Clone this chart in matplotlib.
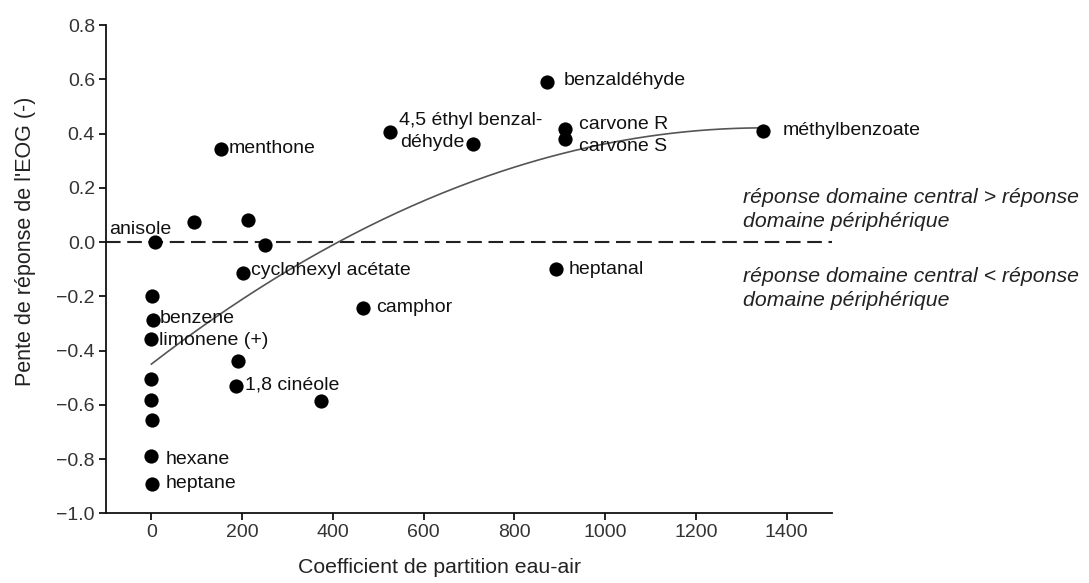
import matplotlib
matplotlib.use('Agg')
import matplotlib.pyplot as plt
import numpy as np

plt.rcParams['font.family'] = ['Liberation Sans', 'DejaVu Sans']

# Odorants: water-air partition coefficient vs EOG response slope
x_vals = [7, 93, 212, 251, 203, 2, 4, 0, 191, 187, 374, 0, 0, 2, 0, 2,
          466, 891, 153, 525, 709, 872, 912, 912, 1347]
y_vals = [0.0, 0.072, 0.08, -0.012, -0.116, -0.20, -0.288, -0.357, -0.44, -0.53,
          -0.585, -0.504, -0.581, -0.655, -0.788, -0.893, -0.242, -0.10, 0.343,
          0.406, 0.361, 0.591, 0.416, 0.38, 0.41]
names = ['anisole', '', '', '', 'cyclohexyl acétate', '', 'benzene', 'limonene (+)',
         '', '1,8 cinéole', '', '', '', '', 'hexane', 'heptane', 'camphor', 'heptanal',
         'menthone', '4,5 éthyl benzal-', 'déhyde', 'benzaldéhyde', 'carvone R',
         'carvone S', 'méthylbenzoate']

# quadratic trend line (coefficients)
trend_coef = [-4.77e-7, 1.289e-3, -0.45]
trend_range = [0, 1345]

y_ticks = [-1.0, -0.8, -0.6, -0.4, -0.2, 0.0, 0.2, 0.4, 0.6, 0.8]
x_ticks = [0, 200, 400, 600, 800, 1000, 1200, 1400]

# label offsets in pixels (dx, dy, ha)
offsets = {
    'anisole': (-45, 13, 'left'),
    'cyclohexyl acétate': (8, 3, 'left'),
    'benzene': (6, 2, 'left'),
    'limonene (+)': (8, -2, 'left'),
    '1,8 cinéole': (9, 1, 'left'),
    'hexane': (14, -4, 'left'),
    'heptane': (13, 1, 'left'),
    'camphor': (13, 0, 'left'),
    'heptanal': (13, 0, 'left'),
    'menthone': (8, 0, 'left'),
    '4,5 éthyl benzal-': (9, 11, 'left'),
    'déhyde': (-9, 2, 'right'),
    'benzaldéhyde': (17, 1, 'left'),
    'carvone R': (14, 5, 'left'),
    'carvone S': (14, -8, 'left'),
    'méthylbenzoate': (20, 0, 'left'),
}

fig = plt.figure(figsize=(10.89, 5.83), dpi=100)
ax = fig.add_axes([106 / 1089, 1 - 513.3 / 583, (832 - 106) / 1089, (513.3 - 25) / 583])

ax.set_xlim(-100, 1500)
ax.set_ylim(-1.0, 0.8)

# zero line
ax.axhline(0, color='#222222', lw=1.5, linestyle=(0, (7, 3.2)), zorder=1)

# trend
xt = np.linspace(trend_range[0], trend_range[1], 200)
ax.plot(xt, np.polyval(trend_coef, xt), color='#555555', lw=1.2, zorder=2)

ax.scatter(x_vals, y_vals, s=105, color='black', zorder=3, linewidths=0)

for x, y, name in zip(x_vals, y_vals, names):
    if not name:
        continue
    dx, dy, ha = offsets[name]
    ax.annotate(name, (x, y), xytext=(dx, dy), textcoords='offset pixels',
                ha=ha, va='center', fontsize=14, color='#111111', zorder=4)

ax.text(1303, 0.12, 'réponse domaine central > réponse\ndomaine périphérique',
        fontsize=15.3, style='italic', va='center', ha='left', color='#222222',
        linespacing=1.35, clip_on=False)
ax.text(1303, -0.17, 'réponse domaine central < réponse\ndomaine périphérique',
        fontsize=15.3, style='italic', va='center', ha='left', color='#222222',
        linespacing=1.35, clip_on=False)

ax.set_xticks(x_ticks)
ax.set_yticks(y_ticks)
ax.set_yticklabels([f'{v:.1f}'.replace('-', '\u2212') for v in y_ticks])

ax.spines['top'].set_visible(False)
ax.spines['right'].set_visible(False)
for s in ['left', 'bottom']:
    ax.spines[s].set_linewidth(1.3)
    ax.spines[s].set_color('#111111')
ax.tick_params(direction='out', length=5, width=1.3, colors='#111111',
               labelsize=14, labelcolor='#333333', pad=3)

ax.set_xlabel('Coefficient de partition eau-air', fontsize=15.3, color='#222222')
ax.xaxis.set_label_coords(0.46, -0.091)
ax.set_ylabel("Pente de réponse de l'EOG (-)", fontsize=15.5, color='#222222')
ax.yaxis.set_label_coords(-0.096, 0.558)

fig.savefig('out.png', dpi=100)
